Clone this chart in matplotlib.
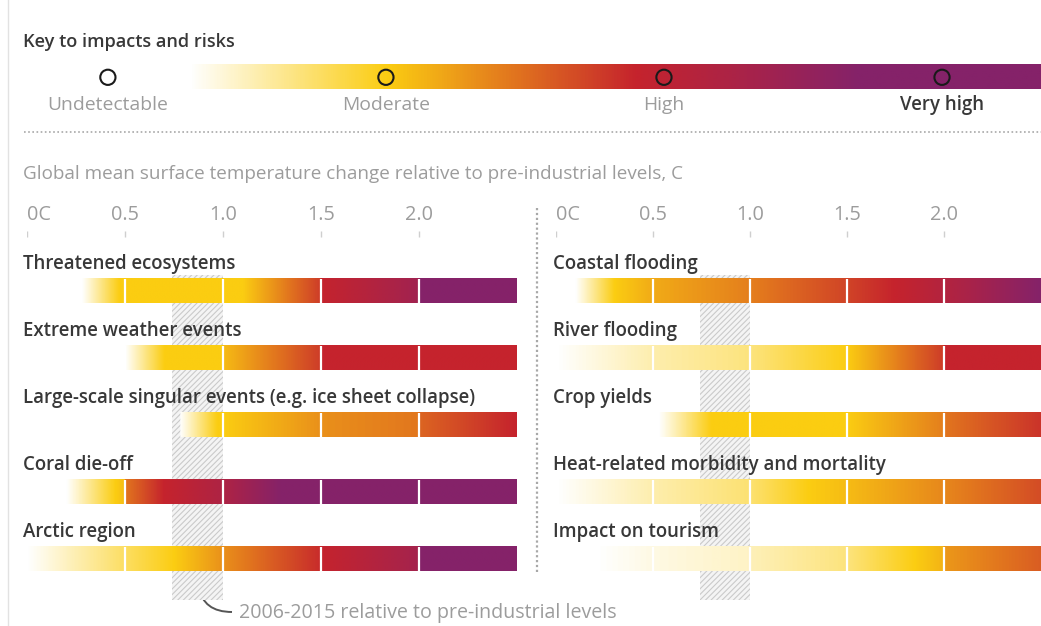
import numpy as np
import matplotlib.pyplot as plt
from matplotlib.colors import LinearSegmentedColormap
from matplotlib.patches import Rectangle, PathPatch
from matplotlib.path import Path

plt.rcParams['font.family'] = ['Open Sans', 'DejaVu Sans']
plt.rcParams['hatch.linewidth'] = 0.8

# risk level: 0 undetectable, 1 moderate, 2 high, 3 very high
risk_stops = [(0.0, '#ffffff'), (1/3, '#fbcd12'), (0.5, '#e2761e'),
              (2/3, '#c5232d'), (5/6, '#a8234a'), (1.0, '#852269')]
cmap = LinearSegmentedColormap.from_list('risk', risk_stops)

key_names = ['Undetectable', 'Moderate', 'High', 'Very high']
key_levels = [0, 1, 2, 3]
# gradient of the key bar (position on level scale -> colour level)
key_grad_pos = [0.29, 1.0, 1.9, 2.7, 3.36]
key_grad_val = [0, 1, 2, 3, 3]

temp_ticks = [0, 0.5, 1.0, 1.5, 2.0]
tick_labels = ['0C', '0.5', '1.0', '1.5', '2.0']
seg_edges = [0.5, 1.0, 1.5, 2.0]
obs_warming = (0.74, 1.0)   # 2006-2015 relative to pre-industrial

left_names = ['Threatened ecosystems', 'Extreme weather events',
              'Large-scale singular events (e.g. ice sheet collapse)',
              'Coral die-off', 'Arctic region']
left_temps = [
    [0.28, 0.47, 1.1, 1.5, 1.5, 2.0, 2.0, 2.5],
    [0.5, 0.7, 1.0, 1.0, 1.5, 1.5, 2.5],
    [0.78, 0.97, 1.0, 1.5, 2.0, 2.0, 2.5],
    [0.2, 0.45, 0.5, 0.5, 0.7, 1.0, 1.3, 2.5],
    [0.0, 0.75, 1.0, 1.5, 1.5, 2.0, 2.0, 2.5],
]
left_levels = [
    [0, 1, 1, 1.85, 2, 2.6, 3, 3],
    [0, 1, 1, 1.1, 1.85, 2, 2],
    [0, 1, 1, 1.35, 1.5, 1.6, 2],
    [0, 1, 1.1, 1.5, 2, 2.4, 3, 3],
    [0, 1, 1.35, 1.95, 2, 2.55, 3, 3],
]

right_names = ['Coastal flooding', 'River flooding', 'Crop yields',
               'Heat-related morbidity and mortality', 'Impact on tourism']
right_temps = [
    [0.1, 0.3, 0.5, 1.0, 1.5, 1.75, 2.0, 2.5],
    [0.0, 0.5, 1.0, 1.5, 2.0, 2.0, 2.5],
    [0.53, 0.8, 1.5, 2.0, 2.0, 2.5],
    [0.0, 0.5, 1.0, 1.3, 1.5, 2.0, 2.5],
    [0.2, 0.5, 1.0, 1.0, 1.5, 1.85, 2.0, 2.0, 2.5],
]
right_levels = [
    [0, 1, 1.2, 1.45, 1.8, 2, 2.3, 3],
    [0, 0.35, 0.55, 1.0, 1.85, 2, 2],
    [0, 1, 1, 1.45, 1.5, 1.9],
    [0, 0.35, 0.6, 1.0, 1.1, 1.4, 1.75],
    [0, 0.12, 0.25, 0.3, 0.55, 1.0, 1.15, 1.3, 1.65],
]

DARK = '#383838'
GREY = '#9c9c9c'

fig = plt.figure(figsize=(10.41, 6.26), dpi=100)

# background axes in pixel units for the loose text and rules
bg = fig.add_axes([0, 0, 1, 1])
bg.set_xlim(0, 1041)
bg.set_ylim(626, 0)
bg.axis('off')
bg.plot([8, 8], [0, 626], color='#e2e2e2', lw=1)
bg.text(23, 42, 'Key to impacts and risks', fontsize=13.1, fontweight='semibold',
        color=DARK, va='center')
bg.plot([24, 1041], [132, 132], color='#a8a8a8', lw=1.2, ls=(0, (1, 1.5)))
bg.text(23, 174, 'Global mean surface temperature change relative to pre-industrial levels, C',
        fontsize=13.6, color=GREY, va='center')
bg.plot([537, 537], [208, 572], color='#a8a8a8', lw=1.6, ls=(0, (1, 1.2)))
curve = Path([(199, 587), (203, 612), (232, 612)],
             [Path.MOVETO, Path.CURVE3, Path.CURVE3])
bg.add_patch(PathPatch(curve, fill=False, edgecolor='#555555', lw=1.4))
bg.text(239, 613, '2006-2015 relative to pre-industrial levels', fontsize=14.1,
        color=GREY, va='center')

# key bar on a risk-level scale
key = fig.add_axes([0, 1 - 115 / 626, 1, 65 / 626])
lv = np.linspace(key_grad_pos[0], key_grad_pos[-1], 800)
kcol = cmap(np.interp(lv, key_grad_pos, key_grad_val) / 3)
key.imshow(kcol[None, :, :], extent=(key_grad_pos[0], key_grad_pos[-1], 0.6, 0.23),
           aspect='auto', interpolation='bilinear')
key.set_xlim(-0.388, 3.356)
key.set_ylim(1, 0)
key.axis('off')
key.scatter(key_levels, [0.42] * 4, s=120, facecolor='none', edgecolor='#1a1a1a',
            lw=1.5, zorder=3)
for name, l in zip(key_names, key_levels):
    last = name == 'Very high'
    key.text(l, 0.84, name, ha='center', va='center', fontsize=13.9 if not last else 13.4,
             color=DARK if last else GREY, fontweight='semibold' if last else 'normal')


def draw_panel(x0, width, names, temps, levels):
    ax = fig.add_axes([x0 / 1041, 0, width / 1041, 431 / 626])
    ax.axis('off')
    grid = np.linspace(0, 2.5, 700)
    ax.add_patch(Rectangle((obs_warming[0], -0.24), obs_warming[1] - obs_warming[0], 4.85,
                           facecolor='#f4f4f4', edgecolor='#cacaca', hatch='//////',
                           lw=0, zorder=1))
    for i in range(len(names)):
        vals = np.interp(grid, temps[i], levels[i])
        rgba = cmap(vals / 3)
        rgba[grid < temps[i][0], 3] = 0
        ax.imshow(rgba[None, :, :], extent=(0, 2.5, i + 0.18, i - 0.18),
                  aspect='auto', interpolation='bilinear', zorder=2)
        ax.vlines(seg_edges, i - 0.18, i + 0.18, color='white', lw=1.6, zorder=3)
        ax.text(-0.018, i - 0.41, names[i], fontsize=13.4, fontweight='semibold',
                color=DARK, va='center', ha='left')
    ax.vlines(temp_ticks, -0.9, -0.8, color='#cfcfcf', lw=1)
    for t, lab in zip(temp_ticks, tick_labels):
        ax.text(t, -1.13, lab, fontsize=14.3, color=GREY, va='center',
                ha='left' if t == 0 else 'center')
    ax.set_xlim(0, 2.5)
    ax.set_ylim(5.0, -1.433)
    return ax


draw_panel(27, 490, left_names, left_temps, left_levels)
draw_panel(556, 485, right_names, right_temps, right_levels)

fig.savefig('out.png', dpi=100)
